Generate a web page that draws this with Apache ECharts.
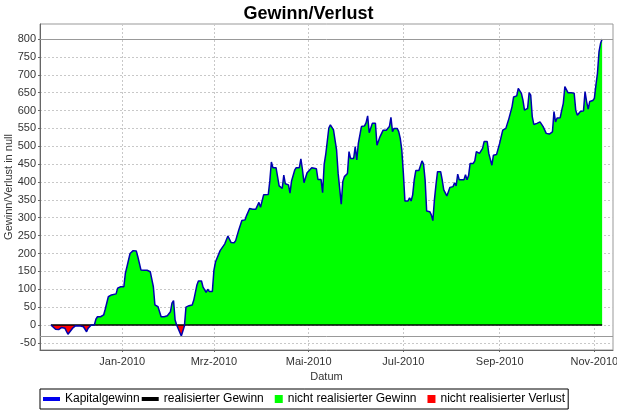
<!DOCTYPE html>
<html>
<head>
<meta charset="utf-8">
<script src="https://cdn.jsdelivr.net/npm/echarts@6/dist/echarts.min.js"></script>
<style>
html,body{margin:0;padding:0;background:#fff;}
#chart{width:617px;height:413px;}
</style>
</head>
<body>
<div id="chart"></div>
<script>
// ---- data ----
const dates = [
'2009-11-16','2009-11-19','2009-11-21','2009-11-23','2009-11-25','2009-11-27','2009-11-28','2009-11-30',
'2009-12-02','2009-12-05','2009-12-07','2009-12-09','2009-12-10','2009-12-12','2009-12-14','2009-12-15',
'2009-12-16','2009-12-18','2009-12-20','2009-12-21','2009-12-23','2009-12-25','2009-12-28','2009-12-29','2009-12-31',
'2010-01-02','2010-01-03','2010-01-04','2010-01-06','2010-01-08','2010-01-10','2010-01-11','2010-01-13','2010-01-15',
'2010-01-17','2010-01-18','2010-01-19','2010-01-21','2010-01-22','2010-01-24','2010-01-26','2010-01-28','2010-01-30',
'2010-02-01','2010-02-02','2010-02-03','2010-02-04','2010-02-05','2010-02-06','2010-02-08','2010-02-10','2010-02-11',
'2010-02-12','2010-02-13','2010-02-15','2010-02-16','2010-02-18','2010-02-19','2010-02-21','2010-02-22','2010-02-24',
'2010-02-25','2010-02-26','2010-02-28',
'2010-03-01','2010-03-02','2010-03-03','2010-03-05','2010-03-06','2010-03-08','2010-03-10','2010-03-11','2010-03-12',
'2010-03-14','2010-03-15','2010-03-17','2010-03-19','2010-03-20','2010-03-21','2010-03-22','2010-03-24','2010-03-26',
'2010-03-28','2010-03-29','2010-03-30','2010-03-31',
'2010-04-02','2010-04-03','2010-04-05','2010-04-06','2010-04-07','2010-04-08','2010-04-10','2010-04-11','2010-04-12',
'2010-04-14','2010-04-15','2010-04-16','2010-04-18','2010-04-19','2010-04-20','2010-04-22','2010-04-23','2010-04-25',
'2010-04-26','2010-04-27','2010-04-28','2010-04-30',
'2010-05-01','2010-05-03','2010-05-04','2010-05-06','2010-05-07','2010-05-09','2010-05-10','2010-05-11','2010-05-12',
'2010-05-14','2010-05-15','2010-05-16','2010-05-17','2010-05-18','2010-05-19','2010-05-20','2010-05-22','2010-05-23',
'2010-05-24','2010-05-26','2010-05-27','2010-05-28','2010-05-30','2010-05-31',
'2010-06-01','2010-06-02','2010-06-04','2010-06-06','2010-06-07','2010-06-08','2010-06-09','2010-06-11','2010-06-13',
'2010-06-14','2010-06-16','2010-06-18','2010-06-20','2010-06-21','2010-06-22','2010-06-23','2010-06-24','2010-06-25',
'2010-06-27','2010-06-28','2010-06-29','2010-06-30',
'2010-07-01','2010-07-02','2010-07-04','2010-07-05','2010-07-06','2010-07-07','2010-07-08','2010-07-09','2010-07-11',
'2010-07-13','2010-07-14','2010-07-15','2010-07-16','2010-07-18','2010-07-19','2010-07-20','2010-07-21','2010-07-22',
'2010-07-23','2010-07-25','2010-07-26','2010-07-27','2010-07-29','2010-07-30','2010-07-31',
'2010-08-02','2010-08-03','2010-08-04','2010-08-05','2010-08-06','2010-08-07','2010-08-09','2010-08-10','2010-08-11',
'2010-08-12','2010-08-13','2010-08-15','2010-08-16','2010-08-17','2010-08-18','2010-08-19','2010-08-21','2010-08-22',
'2010-08-24','2010-08-25','2010-08-27','2010-08-28','2010-08-30','2010-08-31',
'2010-09-01','2010-09-03','2010-09-05','2010-09-06','2010-09-07','2010-09-09','2010-09-10','2010-09-11','2010-09-12',
'2010-09-13','2010-09-14','2010-09-15','2010-09-16','2010-09-17','2010-09-18','2010-09-19','2010-09-20','2010-09-21',
'2010-09-22','2010-09-23','2010-09-25','2010-09-27','2010-09-28','2010-09-29',
'2010-10-01','2010-10-03','2010-10-04','2010-10-05','2010-10-06','2010-10-07','2010-10-08','2010-10-10','2010-10-11',
'2010-10-12','2010-10-13','2010-10-14','2010-10-15','2010-10-17','2010-10-19','2010-10-20','2010-10-21','2010-10-22',
'2010-10-23','2010-10-25','2010-10-26','2010-10-27','2010-10-28','2010-10-29','2010-10-31',
'2010-11-01','2010-11-02','2010-11-03','2010-11-04','2010-11-05','2010-11-06'
];
const capitalGain = [
0,-12,-13,-7,-9,-26,-27,-9,
-2,-3,-5,-19,-9,0,0,16,
23,23,28,44,79,84,87,103,107,
107,145,163,200,208,207,191,154,153,
153,158,149,107,56,51,23,23,26,
37,61,68,14,0,-5,-31,-3,50,
53,54,56,69,111,123,123,106,91,
100,94,94,
153,176,179,208,213,227,249,252,231,
230,236,266,292,294,294,306,326,324,
324,327,343,329,
364,365,365,403,456,440,440,437,389,
382,419,395,392,369,403,433,440,440,
465,435,398,426,
426,440,435,437,407,407,370,449,477,
551,560,560,546,517,489,424,338,401,
415,424,485,466,466,499,
462,508,555,557,566,585,538,564,564,
503,527,545,545,541,555,581,541,550,
550,541,522,489,
424,347,347,356,347,364,406,432,432,
459,450,406,319,317,308,292,350,392,
429,429,406,378,361,373,385,
387,398,389,422,406,406,406,420,406,
418,452,452,459,485,485,480,494,513,
513,480,447,475,477,478,
508,545,550,555,578,611,638,641,641,
662,655,648,629,601,606,606,650,643,
583,561,564,568,570,555,
536,534,531,540,597,568,579,580,601,
620,667,665,650,650,648,601,587,587,
597,599,653,625,604,625,628,
634,671,704,765,788,800
];
const realizedDates = ['2009-11-16','2010-11-06'];
const realizedGain = [0, 0];
const tickDates = ['2010-01-01','2010-03-01','2010-05-01','2010-07-01','2010-09-01','2010-11-01'];
const tickLabels = ['Jan-2010','Mrz-2010','Mai-2010','Jul-2010','Sep-2010','Nov-2010'];
const yTicks = [-50,0,50,100,150,200,250,300,350,400,450,500,550,600,650,700,750,800];
const seriesNames = ['Kapitalgewinn','realisierter Gewinn','nicht realisierter Gewinn','nicht realisierter Verlust'];
const xStart = '2009-11-09';
const xEnd = '2010-11-13';

// ---- helpers ----
function toTs(s){ const p = s.split('-').map(Number); return new Date(p[0], p[1]-1, p[2]).getTime(); }
const curve = dates.map((d,i)=>[toTs(d), capitalGain[i]]);
const realized = realizedDates.map((d,i)=>[toTs(d), realizedGain[i]]);
const tickTs = tickDates.map(toTs);

const chart = echarts.init(document.getElementById('chart'), null, {renderer:'canvas'});
const FONT = 'Liberation Sans, Arial, sans-serif';
const lineIcon = 'path://M0,0h17v4h-17z';
const boxIcon = 'path://M0,4L0,4M9,0h8v8h-8z';
chart.setOption({
  animation: false,
  backgroundColor: '#ffffff',
  title: {
    text: 'Gewinn/Verlust', left: 'center', top: 0,
    textStyle: {fontFamily: FONT, fontSize: 18, fontWeight: 'bold', color: '#000'}
  },
  grid: {left: 40, right: 4, top: 24, bottom: 63, show: true, borderColor: '#999', borderWidth: 1,
         backgroundColor: '#fff', containLabel: false, outerBoundsMode: 'none'},
  legend: {
    left: 40, top: 389, orient: 'horizontal',
    padding: [4, 3, 4, 3], itemGap: 2, itemWidth: 17, itemHeight: 8,
    borderColor: '#000', borderWidth: 1,
    textStyle: {fontFamily: FONT, fontSize: 12, color: '#000'},
    data: [
      {name: seriesNames[0], icon: lineIcon, itemStyle: {color: '#0000ee'}},
      {name: seriesNames[1], icon: lineIcon, itemStyle: {color: '#000'}},
      {name: seriesNames[2], icon: boxIcon, itemStyle: {color: '#00ff00'}},
      {name: seriesNames[3], icon: boxIcon, itemStyle: {color: '#ff0000'}}
    ]
  },
  visualMap: [
    {type: 'piecewise', show: false, dimension: 1, seriesIndex: 0,
     pieces: [{lt: 0, color: 'rgba(0,0,0,0)'}, {gte: 0, lt: 5000, color: '#00ff00'}, {gte: 5000, color: '#00ff00'}]},
    {type: 'piecewise', show: false, dimension: 1, seriesIndex: 1,
     pieces: [{lt: -5000, color: '#ff0000'}, {gte: -5000, lt: 0, color: '#ff0000'}, {gte: 0, color: 'rgba(0,0,0,0)'}]}
  ],
  xAxis: {
    type: 'value', min: toTs(xStart), max: toTs(xEnd),
    name: 'Datum', nameLocation: 'middle', nameGap: 18,
    nameTextStyle: {fontFamily: FONT, fontSize: 11, color: '#333'},
    axisLine: {show: true, onZero: false, lineStyle: {color: '#666', width: 1}},
    axisTick: {show: true, length: 2, customValues: tickTs, lineStyle: {color: '#666'}},
    axisLabel: {customValues: tickTs, margin: 6, fontFamily: FONT, fontSize: 11, color: '#333',
      formatter: function(v){ const i = tickTs.findIndex(t => Math.abs(t - v) < 43200000); return i >= 0 ? tickLabels[i] : ''; }},
    splitLine: {show: true, lineStyle: {color: '#c8c8c8', type: [2, 2], width: 1}}
  },
  yAxis: {
    type: 'value', min: -70, max: 842,
    name: 'Gewinn/Verlust in null', nameLocation: 'middle', nameGap: 26, nameMoveOverlap: false,
    nameTextStyle: {fontFamily: FONT, fontSize: 11, color: '#333'},
    axisLine: {show: true, onZero: false, lineStyle: {color: '#666', width: 1}},
    axisTick: {show: true, length: 2, customValues: yTicks, lineStyle: {color: '#666'}},
    axisLabel: {customValues: yTicks, margin: 4, fontFamily: FONT, fontSize: 11, color: '#333'},
    splitLine: {show: true, lineStyle: {color: '#c8c8c8', type: [2, 2], width: 1}}
  },
  series: [
    {name: seriesNames[2], type: 'line', data: curve, showSymbol: false, symbol: 'none',
     lineStyle: {width: 0}, itemStyle: {color: '#00ff00'}, areaStyle: {opacity: 1}, z: 2},
    {name: seriesNames[3], type: 'line', data: curve, showSymbol: false, symbol: 'none',
     lineStyle: {width: 0}, itemStyle: {color: '#ff0000'}, areaStyle: {opacity: 1}, z: 2},
    {name: seriesNames[1], type: 'line', data: realized, showSymbol: false, symbol: 'none',
     lineStyle: {width: 1.5, color: '#000'}, itemStyle: {color: '#000'}, z: 3},
    {name: seriesNames[0], type: 'line', data: curve, showSymbol: false, symbol: 'none',
     lineStyle: {width: 1.5, color: '#0000b0'}, itemStyle: {color: '#0000ee'}, z: 4,
     markLine: {silent: true, symbol: 'none', label: {show: false},
       lineStyle: {color: '#999', type: 'solid', width: 1},
       data: [{type: 'max'}, {type: 'min'}]}}
  ]
});
</script>
</body>
</html>
